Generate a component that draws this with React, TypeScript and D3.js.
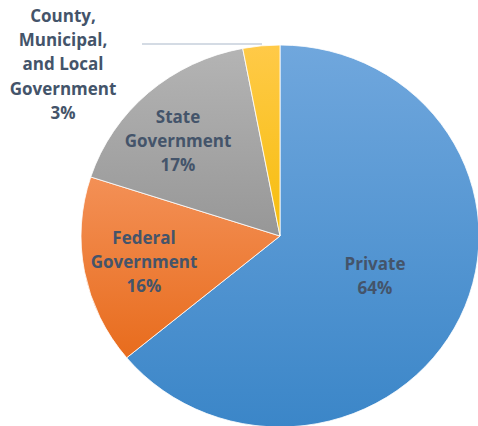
import React from "react";
import * as d3 from "d3";

const categories = ["Private", "Federal Government", "State Government", "County, Municipal, and Local Government"];
const values = [64, 16, 17, 3];
const labelLines = [
  ["Private", "64%"],
  ["Federal", "Government", "16%"],
  ["State", "Government", "17%"],
  ["County,", "Municipal,", "and Local", "Government", "3%"],
];
const gradTop = ["#70a7dd", "#f39056", "#b4b4b4", "#ffca48"];
const gradBottom = ["#3b86c8", "#e86c1d", "#979797", "#f6bd0c"];

const W = 478;
const H = 426;
const cx = 280;
const cy = 236;
const ry = 191;
const rx = 199;

// label anchor positions (centre x, first line centre y)
const labelPos: [number, number][] = [
  [375, 264],
  [144, 238],
  [178, 117],
  [63, 16],
];
const lineH = 24.2;

export default function App() {
  const pie = d3.pie<number>().sort(null).startAngle(0).endAngle(2 * Math.PI);
  const arcs = pie(values);
  const arc = d3.arc<d3.PieArcDatum<number>>().innerRadius(0).outerRadius(ry);
  const sx = rx / ry;

  return (
    <svg width={W} height={H} style={{ position: "absolute", left: 0, top: 0 }}>
      <defs>
        {categories.map((c, i) => (
          <linearGradient key={c} id={`g${i}`} x1="0" y1="0" x2="0" y2="1">
            <stop offset="0" stopColor={gradTop[i]} />
            <stop offset="1" stopColor={gradBottom[i]} />
          </linearGradient>
        ))}
      </defs>
      <line x1={142} y1={44} x2={262} y2={44} stroke="#a9b7ca" strokeWidth={1.2} />
      <g transform={`translate(${cx},${cy}) scale(${sx},1)`}>
        {arcs.map((a, i) => (
          <path
            key={categories[i]}
            d={arc(a) as string}
            fill={`url(#g${i})`}
            stroke="#ffffff"
            strokeWidth={0.8}
            vectorEffect="non-scaling-stroke"
          />
        ))}
      </g>
      {labelLines.map((lines, i) => (
        <text
          key={categories[i]}
          textAnchor="middle"
          fontFamily="'Open Sans', sans-serif"
          fontWeight={700}
          fontSize={17}
          fill="#44546a"
        >
          {lines.map((l, j) => (
            <tspan key={j} x={labelPos[i][0]} y={labelPos[i][1] + j * lineH} dy="0.35em">
              {l}
            </tspan>
          ))}
        </text>
      ))}
    </svg>
  );
}
